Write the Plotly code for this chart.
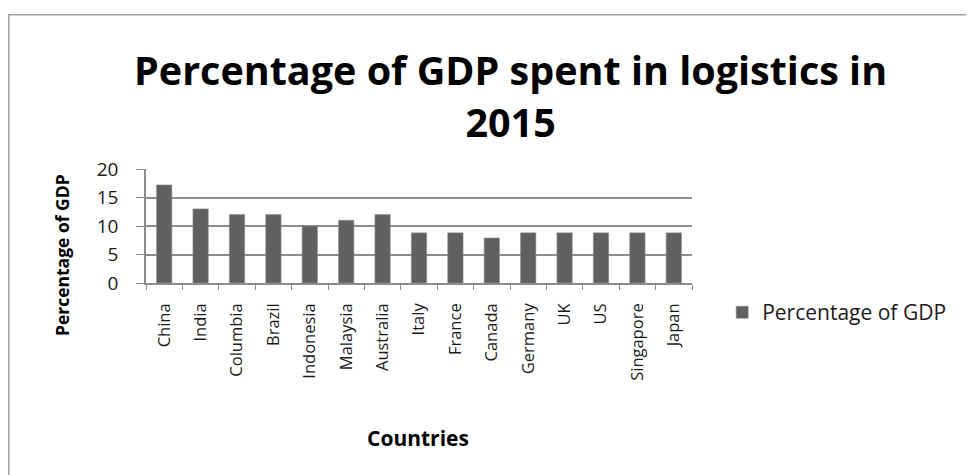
import plotly.graph_objects as go

countries = ["China", "India", "Columbia", "Brazil", "Indonesia", "Malaysia", "Australia",
             "Italy", "France", "Canada", "Germany", "UK", "US", "Singapore", "Japan"]
pct_gdp = [17.2, 13, 12, 12, 10, 11, 12, 8.8, 8.8, 7.9, 8.8, 8.8, 8.8, 8.8, 8.8]
y_ticks = [0, 5, 10, 15, 20]

FONT = "Open Sans"
TXT = "#1a1a1a"

fig = go.Figure()
fig.add_trace(go.Bar(
    x=countries, y=pct_gdp, name="Percentage of GDP",
    marker=dict(color="#606060", line=dict(color="#8a8a8a", width=0.6)),
))

fig.update_layout(
    width=974, height=475,
    margin=dict(l=138, r=290, t=161, b=200),
    paper_bgcolor="white", plot_bgcolor="white",
    showlegend=True,
    legend=dict(x=1.0553, y=-0.26, xanchor="left", yanchor="middle",
                font=dict(family=FONT, size=21, color=TXT),
                itemwidth=30, bgcolor="rgba(0,0,0,0)"),
    title=dict(text="<b>Percentage of GDP spent in logistics in<br>2015</b>",
               x=0.516, xanchor="center", xref="container",
               y=0.837, yanchor="middle", yref="container",
               font=dict(family=FONT, size=39.5, color="black")),
    xaxis=dict(type="category", showline=True, linecolor="#8c8c8c", linewidth=1.5,
               ticks="outside", tickson="boundaries", ticklen=5, tickcolor="#8c8c8c",
               tickangle=-90, tickfont=dict(family=FONT, size=16.5, color=TXT),
               ticklabelstandoff=12,
               showgrid=False, range=[-0.5, 14.5]),
    yaxis=dict(range=[0, 20], tickvals=y_ticks, showline=True, linecolor="#8c8c8c",
               linewidth=1.5, ticks="outside", ticklen=8, tickcolor="#8c8c8c",
               ticklabelstandoff=14,
               showgrid=True, gridcolor="#8c8c8c", gridwidth=1.5,
               zeroline=False, tickfont=dict(family=FONT, size=19, color=TXT)),
    bargap=0.58,
    annotations=[
        dict(text="<b>Percentage of GDP</b>", x=-0.154, y=0.244, xref="paper", yref="paper",
             textangle=-90, showarrow=False, xanchor="center", yanchor="middle",
             font=dict(family=FONT, size=17.5, color="black")),
        dict(text="<b>Countries</b>", x=0.498, y=-1.36, xref="paper", yref="paper",
             showarrow=False, xanchor="center", yanchor="middle",
             font=dict(family=FONT, size=21, color="black")),
    ],
    shapes=[dict(type="rect", xref="paper", yref="paper",
                 x0=-0.2513, x1=1.55, y0=-1.8, y1=2.352,
                 line=dict(color="#a0a0a0", width=1.5), fillcolor="rgba(0,0,0,0)",
                 layer="below")],
)

fig.write_html("out.html")
